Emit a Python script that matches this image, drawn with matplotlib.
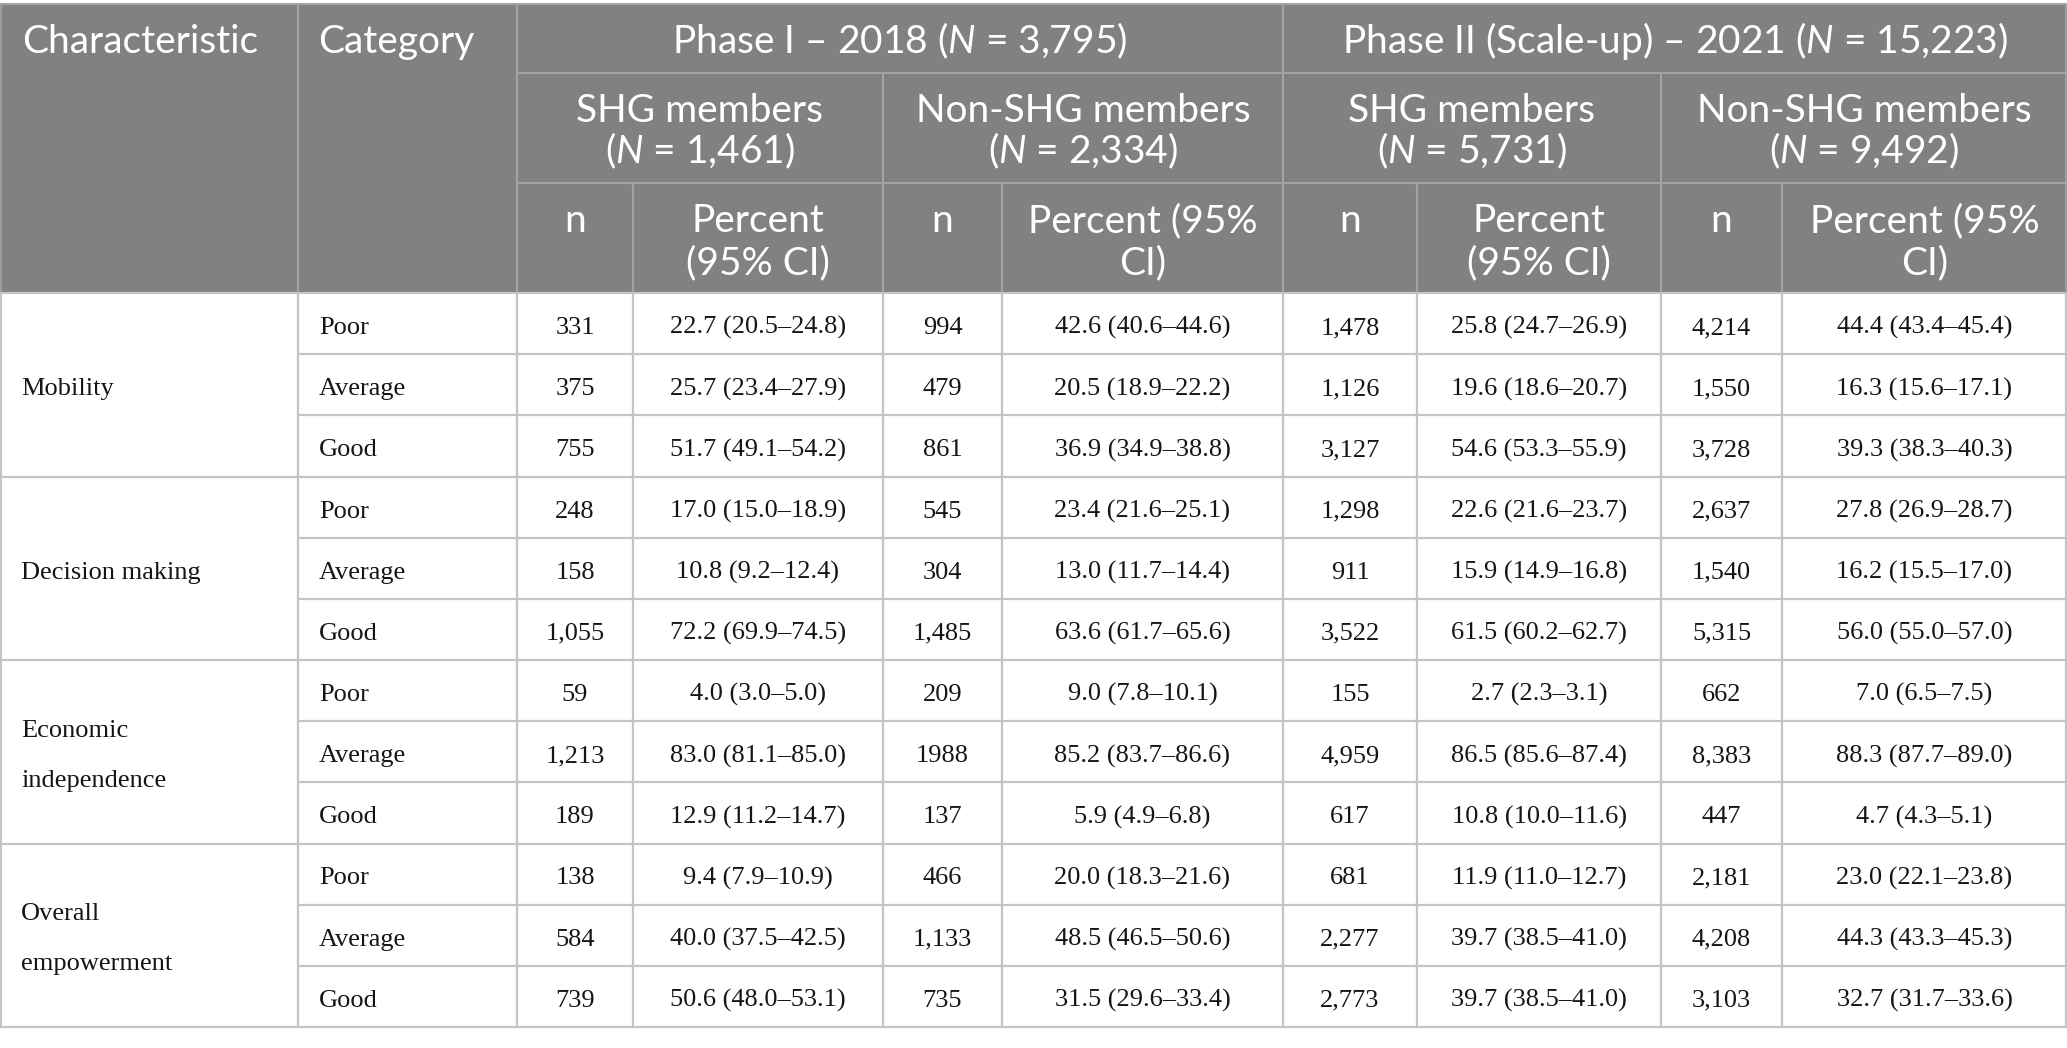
import matplotlib
matplotlib.use("Agg")
import matplotlib.pyplot as plt
from matplotlib.patches import Rectangle

# ---------------- data ----------------
characteristics = ["Mobility", "Decision making", "Economic\nindependence", "Overall\nempowerment"]
categories = ["Poor", "Average", "Good"]

phase_titles = ["Phase I \u2013 2018 ($N$ = 3,795)",
                "Phase II (Scale-up) \u2013 2021 ($N$ = 15,223)"]
group_titles = ["SHG members\n($N$ = 1,461)", "Non-SHG members\n($N$ = 2,334)",
                "SHG members\n($N$ = 5,731)", "Non-SHG members\n($N$ = 9,492)"]
sub_titles = ["n", "Percent\n(95% CI)", "n", "Percent (95%\nCI)",
              "n", "Percent\n(95% CI)", "n", "Percent (95%\nCI)"]

p1_shg_n = ["331", "375", "755", "248", "158", "1,055", "59", "1,213", "189", "138", "584", "739"]
p1_shg_pct = ["22.7 (20.5\u201324.8)", "25.7 (23.4\u201327.9)", "51.7 (49.1\u201354.2)",
              "17.0 (15.0\u201318.9)", "10.8 (9.2\u201312.4)", "72.2 (69.9\u201374.5)",
              "4.0 (3.0\u20135.0)", "83.0 (81.1\u201385.0)", "12.9 (11.2\u201314.7)",
              "9.4 (7.9\u201310.9)", "40.0 (37.5\u201342.5)", "50.6 (48.0\u201353.1)"]
p1_non_n = ["994", "479", "861", "545", "304", "1,485", "209", "1988", "137", "466", "1,133", "735"]
p1_non_pct = ["42.6 (40.6\u201344.6)", "20.5 (18.9\u201322.2)", "36.9 (34.9\u201338.8)",
              "23.4 (21.6\u201325.1)", "13.0 (11.7\u201314.4)", "63.6 (61.7\u201365.6)",
              "9.0 (7.8\u201310.1)", "85.2 (83.7\u201386.6)", "5.9 (4.9\u20136.8)",
              "20.0 (18.3\u201321.6)", "48.5 (46.5\u201350.6)", "31.5 (29.6\u201333.4)"]
p2_shg_n = ["1,478", "1,126", "3,127", "1,298", "911", "3,522", "155", "4,959", "617", "681", "2,277", "2,773"]
p2_shg_pct = ["25.8 (24.7\u201326.9)", "19.6 (18.6\u201320.7)", "54.6 (53.3\u201355.9)",
              "22.6 (21.6\u201323.7)", "15.9 (14.9\u201316.8)", "61.5 (60.2\u201362.7)",
              "2.7 (2.3\u20133.1)", "86.5 (85.6\u201387.4)", "10.8 (10.0\u201311.6)",
              "11.9 (11.0\u201312.7)", "39.7 (38.5\u201341.0)", "39.7 (38.5\u201341.0)"]
p2_non_n = ["4,214", "1,550", "3,728", "2,637", "1,540", "5,315", "662", "8,383", "447", "2,181", "4,208", "3,103"]
p2_non_pct = ["44.4 (43.4\u201345.4)", "16.3 (15.6\u201317.1)", "39.3 (38.3\u201340.3)",
              "27.8 (26.9\u201328.7)", "16.2 (15.5\u201317.0)", "56.0 (55.0\u201357.0)",
              "7.0 (6.5\u20137.5)", "88.3 (87.7\u201389.0)", "4.7 (4.3\u20135.1)",
              "23.0 (22.1\u201323.8)", "44.3 (43.3\u201345.3)", "32.7 (31.7\u201333.6)"]

value_columns = [p1_shg_n, p1_shg_pct, p1_non_n, p1_non_pct,
                 p2_shg_n, p2_shg_pct, p2_non_n, p2_non_pct]

# ---------------- style / layout ----------------
plt.rcParams['mathtext.fontset'] = 'custom'
plt.rcParams['mathtext.it'] = 'Lato:italic'
plt.rcParams['mathtext.rm'] = 'Lato'

W, H = 2067, 1048
fig = plt.figure(figsize=(W / 100, H / 100), dpi=100)
ax = fig.add_axes([0, 0, 1, 1])
ax.set_xlim(0, W)
ax.set_ylim(H, 0)
ax.axis('off')

HEAD_BG = '#808180'
HEAD_LINE = '#a3a3a3'
GRID = '#c4c4c4'
TXT = '#151515'
HFONT = 'Lato'
BFONT = 'Liberation Serif'
HSIZE = 28
BSIZE = 19

xe = [0, 298, 517, 633, 883, 1002, 1283, 1417, 1661, 1782, 2067]
y_top, y_h1, y_h2, y_h3 = 4, 72.5, 183, 293
row_h = (1027 - y_h3) / 12.0

# header background
ax.add_patch(Rectangle((0, y_top), W, y_h3 - y_top, facecolor=HEAD_BG, edgecolor='none', zorder=0))

def hline(y, x0, x1, c, lw):
    ax.plot([x0, x1], [y, y], color=c, lw=lw, solid_capstyle='butt', zorder=2)

def vline(x, y0, y1, c, lw):
    ax.plot([x, x], [y0, y1], color=c, lw=lw, solid_capstyle='butt', zorder=2)

# header lines
hline(y_top, 0, W, HEAD_LINE, 1.5)
hline(y_h1, xe[2], W, HEAD_LINE, 1.5)
hline(y_h2, xe[2], W, HEAD_LINE, 1.5)
for x in (xe[1], xe[2], xe[6]):
    vline(x, y_top, y_h3, HEAD_LINE, 1.5)
for x in (xe[4], xe[8]):
    vline(x, y_h1, y_h3, HEAD_LINE, 1.5)
for x in (xe[3], xe[5], xe[7], xe[9]):
    vline(x, y_h2, y_h3, HEAD_LINE, 1.5)
vline(0.6, y_top, y_h3, HEAD_LINE, 1.2)
vline(W - 0.6, y_top, y_h3, HEAD_LINE, 1.2)

# header text
ax.text(22, 53, "Characteristic", color='white', fontsize=HSIZE, family=HFONT, va='baseline', ha='left')
ax.text(318, 53, "Category", color='white', fontsize=HSIZE, family=HFONT, va='baseline', ha='left')
for i, t in enumerate(phase_titles):
    cx = (xe[2 + 4 * i] + xe[6 + 4 * i]) / 2
    ax.text(cx, 53, t, color='white', fontsize=HSIZE, family=HFONT, va='baseline', ha='center')
for i, t in enumerate(group_titles):
    cx = (xe[2 + 2 * i] + xe[4 + 2 * i]) / 2
    for k, line in enumerate(t.split("\n")):
        ax.text(cx, 122 + 41 * k, line, color='white', fontsize=HSIZE, family=HFONT,
                va='baseline', ha='center')
for i, t in enumerate(sub_titles):
    cx = (xe[2 + i] + xe[3 + i]) / 2
    for k, line in enumerate(t.split("\n")):
        ax.text(cx, 232 + 42 * k, line, color='white', fontsize=HSIZE, family=HFONT,
                va='baseline', ha='center')

# body grid
for r in range(13):
    y = y_h3 + r * row_h
    if r % 3 == 0:
        hline(y, 0, W, GRID, 1.6)
    else:
        hline(y, xe[1], W, GRID, 1.6)
for x in xe[1:-1]:
    vline(x, y_h3, y_h3 + 12 * row_h, GRID, 1.6)
vline(0.8, y_h3, y_h3 + 12 * row_h, GRID, 1.6)
vline(W - 0.8, y_h3, y_h3 + 12 * row_h, GRID, 1.6)

# body text
for g, ch in enumerate(characteristics):
    gtop = y_h3 + 3 * g * row_h
    lines = ch.split("\n")
    if len(lines) == 1:
        ax.text(21, gtop + row_h + 41, lines[0], color=TXT, fontsize=BSIZE, family=BFONT,
                va='baseline', ha='left')
    else:
        gc = gtop + 1.5 * row_h
        ax.text(21, gc - 15, lines[0], color=TXT, fontsize=BSIZE, family=BFONT, va='baseline', ha='left')
        ax.text(21, gc + 35, lines[1], color=TXT, fontsize=BSIZE, family=BFONT, va='baseline', ha='left')
    for c, cat in enumerate(categories):
        ax.text(319, gtop + c * row_h + 41, cat, color=TXT, fontsize=BSIZE, family=BFONT,
                va='baseline', ha='left')

for j, col in enumerate(value_columns):
    cx = (xe[2 + j] + xe[3 + j]) / 2
    for r, v in enumerate(col):
        ax.text(cx, y_h3 + r * row_h + 41, v, color=TXT, fontsize=BSIZE, family=BFONT,
                va='baseline', ha='center')

fig.savefig("out.png", dpi=100, facecolor='white')
